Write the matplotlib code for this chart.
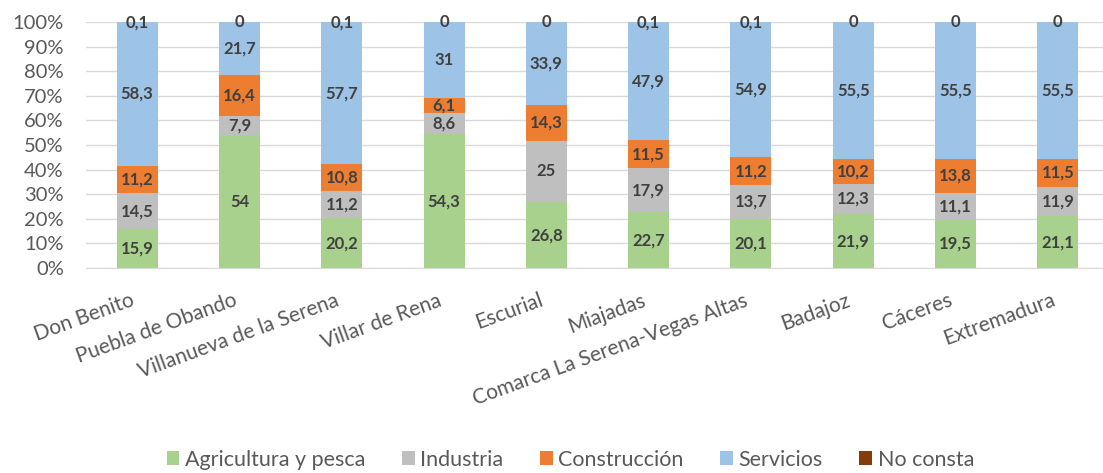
import numpy as np
import matplotlib.pyplot as plt
import matplotlib.transforms as mtransforms
from matplotlib.ticker import PercentFormatter

plt.rcParams['font.family'] = ['Lato', 'DejaVu Sans']

municipios = ['Don Benito', 'Puebla de Obando', 'Villanueva de la Serena', 'Villar de Rena',
              'Escurial', 'Miajadas', 'Comarca La Serena-Vegas Altas', 'Badajoz',
              'Cáceres', 'Extremadura']
agricultura = [15.9, 54, 20.2, 54.3, 26.8, 22.7, 20.1, 21.9, 19.5, 21.1]
industria = [14.5, 7.9, 11.2, 8.6, 25, 17.9, 13.7, 12.3, 11.1, 11.9]
construccion = [11.2, 16.4, 10.8, 6.1, 14.3, 11.5, 11.2, 10.2, 13.8, 11.5]
servicios = [58.3, 21.7, 57.7, 31, 33.9, 47.9, 54.9, 55.5, 55.5, 55.5]
no_consta = [0.1, 0, 0.1, 0, 0, 0.1, 0.1, 0, 0, 0]

series = [
    ('Agricultura y pesca', agricultura, '#A9D18E'),
    ('Industria', industria, '#BFBFBF'),
    ('Construcción', construccion, '#ED7D31'),
    ('Servicios', servicios, '#9DC3E6'),
    ('No consta', no_consta, '#843C0C'),
]

datos = np.array([s[1] for s in series], dtype=float)
pct = datos / datos.sum(axis=0) * 100

W, H = 1103, 473
fig = plt.figure(figsize=(W / 100, H / 100), dpi=100)
# plot area: 86px -> 1109px (slightly cropped at the right, like the source)
ax = fig.add_axes([86 / W, (H - 268) / H, 1023 / W, 246 / H])

x = np.arange(len(municipios))
base = np.zeros(len(municipios))
for i, (nombre, vals, color) in enumerate(series):
    ax.bar(x, pct[i], 0.4, bottom=base, color=color, label=nombre, zorder=3)
    for j in range(len(municipios)):
        txt = ('%g' % vals[j]).replace('.', ',')
        ax.text(x[j], base[j] + pct[i][j] / 2, txt, ha='center', va='center',
                fontsize=12, fontweight='bold', color='#404040', zorder=4)
    base = base + pct[i]

ax.set_ylim(0, 100)
ax.set_xlim(-0.5, len(municipios) - 0.5)
ax.set_yticks(np.arange(0, 101, 10))
ax.yaxis.set_major_formatter(PercentFormatter(decimals=0))
ax.grid(axis='y', color='#D9D9D9', linewidth=1, zorder=0)
for s in ['top', 'right', 'left']:
    ax.spines[s].set_visible(False)
ax.spines['bottom'].set_color('#D9D9D9')
ax.tick_params(axis='both', length=0, colors='#595959')
ax.tick_params(axis='y', pad=16, labelsize=14.5)
ax.tick_params(axis='x', pad=16)
ax.set_xticks(x)
ax.set_xticklabels(municipios, rotation=20, ha='right', va='top',
                   rotation_mode='anchor', fontsize=15)
desplaza = mtransforms.ScaledTranslation(-7 / 100, 0, fig.dpi_scale_trans)
for lbl in ax.get_xticklabels():
    lbl.set_transform(lbl.get_transform() + desplaza)

fig.legend(loc='center', ncol=5, frameon=False, fontsize=15.5,
           bbox_to_anchor=(0.517, 0.028), handlelength=0.6, handleheight=0.6,
           handletextpad=0.25, columnspacing=1.7, labelcolor='#595959')

plt.savefig('out.png', dpi=100)
